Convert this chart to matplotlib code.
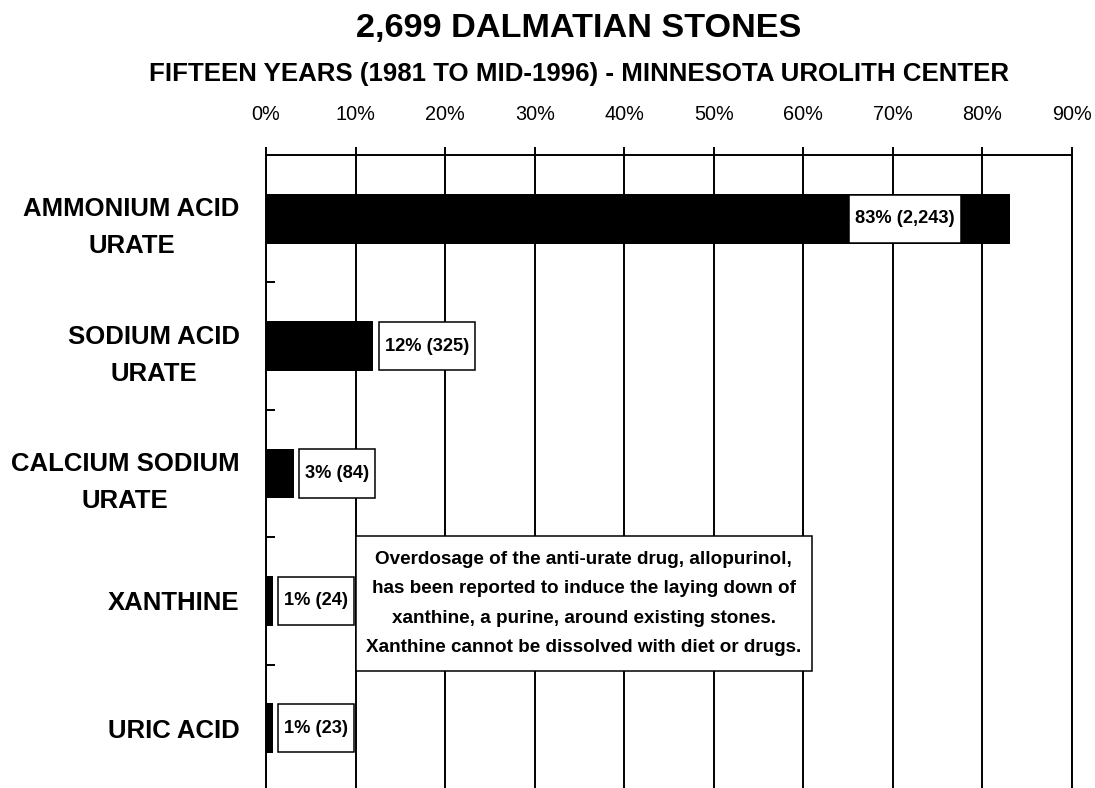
import matplotlib
matplotlib.use("Agg")
import matplotlib.pyplot as plt
from matplotlib import font_manager
from matplotlib.patches import Rectangle


# Fonts: bold Arial-like for headings, narrow for ticks and value labels
installed = {f.name for f in font_manager.fontManager.ttflist}
BOLD_FONT = "Liberation Sans"
if "Liberation Sans Narrow" in installed:
    NARROW_FONT = "Liberation Sans Narrow"
    NARROW_SCALE = 1.0
else:
    NARROW_FONT = "Liberation Sans"
    NARROW_SCALE = 0.82

TITLE = "2,699 DALMATIAN STONES"
SUBTITLE = "FIFTEEN YEARS (1981 TO MID-1996) - MINNESOTA UROLITH CENTER"

categories = [
    "AMMONIUM ACID\nURATE",
    "SODIUM ACID\nURATE",
    "CALCIUM SODIUM\nURATE",
    "XANTHINE",
    "URIC ACID",
]
percents = [83.1, 12.0, 3.1, 0.8, 0.8]
value_labels = ["83% (2,243)", "12% (325)", "3% (84)", "1% (24)", "1% (23)"]
x_ticks = [0, 10, 20, 30, 40, 50, 60, 70, 80, 90]
x_tick_labels = [f"{t}%" for t in x_ticks]

NOTE = ("Overdosage of the anti-urate drug, allopurinol,\n"
        "has been reported to induce the laying down of\n"
        "xanthine, a purine, around existing stones.\n"
        "Xanthine cannot be dissolved with diet or drugs.")

W, H = 1095, 788
LW = 1.4
BAR_H = 0.39


def boxed(ax, renderer, t, pad_x, y0, y1, z):
    # white box behind a text, padded in pixels horizontally, data y-range
    inv = ax.transData.inverted()
    bb = t.get_window_extent(renderer)
    x0 = inv.transform((bb.x0 - pad_x, 0))[0]
    x1 = inv.transform((bb.x1 + pad_x, 0))[0]
    ax.add_patch(Rectangle((x0, y0), x1 - x0, y1 - y0, facecolor="white",
                           edgecolor="black", linewidth=1.1, zorder=z))


def main():
    fig = plt.figure(figsize=(W / 100, H / 100), dpi=100)
    fig.patch.set_facecolor("white")

    ax = fig.add_axes([266 / W, -4 / H, 806 / W, 637 / H])
    ax.set_xlim(0, 90)
    ax.set_ylim(4.5, -0.5)

    ypos = list(range(len(categories)))
    ax.barh(ypos, percents, height=BAR_H, color="black", zorder=3)

    # spines / grid
    for side in ["top", "left", "right"]:
        ax.spines[side].set_linewidth(LW)
        ax.spines[side].set_color("black")
    ax.spines["bottom"].set_visible(False)
    ax.xaxis.grid(True, color="black", linewidth=LW)
    ax.set_axisbelow(True)

    # x axis on top
    ax.xaxis.tick_top()
    ax.set_xticks(x_ticks)
    ax.set_xticklabels(x_tick_labels, fontfamily=NARROW_FONT,
                       fontsize=17.5 * NARROW_SCALE)
    ax.tick_params(axis="x", direction="out", length=6, width=LW, pad=16)

    # y axis: labels at bars, small ticks between categories
    ax.set_yticks(ypos)
    ax.set_yticklabels(categories, fontfamily=BOLD_FONT, fontweight="bold",
                       fontsize=18.5, multialignment="center", linespacing=1.7)
    ax.set_yticks([0.5, 1.5, 2.5, 3.5], minor=True)
    ax.tick_params(axis="y", which="major", length=0, pad=19)
    ax.tick_params(axis="y", which="minor", direction="in", length=6.5, width=LW)

    # value labels
    texts = []
    for i, (v, lab) in enumerate(zip(percents, value_labels)):
        inside = v > 50
        t = ax.annotate(lab, xy=(v, i), xytext=(-40 if inside else 8, 0),
                        textcoords="offset points",
                        ha="right" if inside else "left", va="center",
                        fontfamily=NARROW_FONT, fontweight="bold",
                        fontsize=16 * NARROW_SCALE, zorder=6)
        texts.append(t)

    # note
    note_y = 3.02
    note = ax.text(35.5, note_y, NOTE, ha="center", va="center",
                   fontfamily=BOLD_FONT, fontweight="bold", fontsize=13.6,
                   linespacing=1.95, zorder=8)

    fig.canvas.draw()
    renderer = fig.canvas.get_renderer()
    h = BAR_H * 0.97
    for i, t in enumerate(texts):
        boxed(ax, renderer, t, 6, i - h / 2, i + h / 2, 5)
    note_h = 1.06
    boxed(ax, renderer, note, 10, note_y - note_h / 2, note_y + note_h / 2, 7)

    # titles
    fig.text(579 / W, 1 - 28 / H, TITLE, ha="center", va="center",
             fontfamily=BOLD_FONT, fontweight="bold", fontsize=24.7)
    fig.text(579 / W, 1 - 74 / H, SUBTITLE, ha="center", va="center",
             fontfamily=BOLD_FONT, fontweight="bold", fontsize=18.6)

    fig.savefig("out.png", dpi=100)


if __name__ == "__main__":
    main()
